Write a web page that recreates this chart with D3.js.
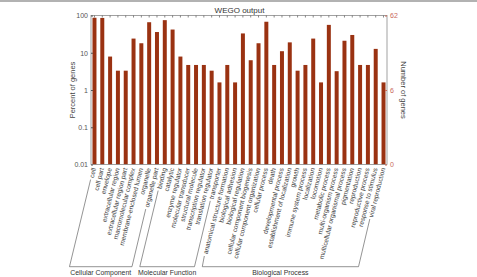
<!DOCTYPE html>
<html lang="en">
<head>
  <meta charset="UTF-8">
  <title>WEGO output</title>
  <style>
    body{margin:0;background:#fff;}
    text{font-family:"Liberation Sans", Arial, sans-serif;}
  </style>
</head>
<body>
<svg width="477" height="277"></svg>
<script src="https://cdn.jsdelivr.net/npm/d3@7/dist/d3.min.js"></script>
<script>
  // categories, in drawing order
  var categories = [
    "cell", "cell part", "envelope", "extracellular region", "extracellular region part",
    "macromolecular complex", "membrane-enclosed lumen", "organelle", "organelle part",
    "binding", "catalytic", "enzyme regulator", "molecular transducer", "structural molecule",
    "transcription regulator", "translation regulator", "transporter",
    "anatomical structure formation", "biological adhesion", "biological regulation",
    "cellular component biogenesis", "cellular component organization", "cellular process",
    "death", "developmental process", "establishment of localization", "growth",
    "immune system process", "localization", "locomotion", "metabolic process",
    "multi-organism process", "multicellular organismal process", "pigmentation",
    "reproduction", "reproductive process", "response to stimulus", "viral reproduction"
  ];
  // percent of genes
  var percents = [
    87, 86, 7.9, 3.3, 3.3, 24, 18, 66, 36,
    75, 42, 7.9, 4.7, 4.7, 4.7, 3.3, 1.6,
    4.7, 1.6, 33, 6.3, 18, 68, 4.7, 11, 19, 3.3, 4.7, 24, 1.6, 56, 3.2, 21, 30, 4.7, 4.7, 12.7, 1.6
  ];
  // groups: name, first index, last index
  var groupNames = ["Cellular Component", "Molecular Function", "Biological Process"];
  var groupFirst = [0, 9, 17];
  var groupLast = [8, 16, 37];
  var leftTicks = [0.01, 0.1, 1, 10, 100];
  var rightTicks = [0.01, 1, 100];
  var rightTickLabels = ["0", "6", "62"];

  var svg = d3.select('svg');
  var plot = {left: 91, right: 387, top: 15.5, bottom: 164.5};
  var barColor = '#9a3212';
  var axisColor = '#8a8a8a';

  var x = d3.scaleBand().domain(d3.range(categories.length))
    .range([plot.left, plot.right]).paddingInner(0.49).paddingOuter(0.19);
  var y = d3.scaleLog().domain([0.01, 100]).range([plot.bottom, plot.top]);

  // image top border
  svg.append('line').attr('x1', 0).attr('x2', 477).attr('y1', 1).attr('y2', 1)
    .attr('stroke', '#999').attr('stroke-width', 1.5);

  // title
  svg.append('text').attr('x', 239.5).attr('y', 13).attr('text-anchor', 'middle')
    .attr('font-size', 8).attr('fill', '#333').text('WEGO output');

  // bars
  svg.append('g').selectAll('rect').data(percents).enter().append('rect')
    .attr('x', function (d, i) { return x(i); })
    .attr('y', function (d) { return y(d); })
    .attr('width', x.bandwidth())
    .attr('height', function (d) { return plot.bottom - y(d); })
    .attr('fill', barColor);

  // frame
  svg.append('rect').attr('x', plot.left).attr('y', plot.top)
    .attr('width', plot.right - plot.left).attr('height', plot.bottom - plot.top)
    .attr('fill', 'none').attr('stroke', axisColor).attr('stroke-width', 0.8);

  // top ticks at each category
  svg.append('g').selectAll('line').data(categories).enter().append('line')
    .attr('x1', function (d, i) { return x(i) + x.bandwidth() / 2; })
    .attr('x2', function (d, i) { return x(i) + x.bandwidth() / 2; })
    .attr('y1', plot.top).attr('y2', plot.top + 2)
    .attr('stroke', '#555').attr('stroke-width', 0.7);

  // left axis
  var left = svg.append('g').attr('transform', 'translate(' + plot.left + ',0)')
    .call(d3.axisLeft(y).tickValues(leftTicks).tickSize(-2).tickPadding(3)
      .tickFormat(function (d) { return String(d); }));
  left.select('.domain').remove();
  left.selectAll('line').attr('stroke', '#555');
  left.selectAll('text').attr('font-size', 7).attr('fill', '#555')
    .attr('font-family', '"Liberation Sans", Arial, sans-serif');

  // right axis
  var right = svg.append('g').attr('transform', 'translate(' + plot.right + ',0)')
    .call(d3.axisRight(y).tickValues(rightTicks).tickSize(-2).tickPadding(3)
      .tickFormat(function (d, i) { return rightTickLabels[i]; }));
  right.select('.domain').remove();
  right.selectAll('line').attr('stroke', '#c96a5a');
  right.selectAll('text').attr('font-size', 7).attr('fill', '#c96a5a')
    .attr('font-family', '"Liberation Sans", Arial, sans-serif');

  // axis titles
  svg.append('text').attr('transform', 'translate(75,' + (plot.top + plot.bottom) / 2 + ') rotate(-90)')
    .attr('text-anchor', 'middle').attr('font-size', 7.5).attr('fill', '#444').text('Percent of genes');
  svg.append('text').attr('transform', 'translate(401,' + (plot.top + plot.bottom) / 2 + ') rotate(90)')
    .attr('text-anchor', 'middle').attr('font-size', 7.5).attr('fill', '#444').text('Number of genes');

  // category labels, rotated
  var angle = -76, rad = angle * Math.PI / 180;
  var labelTop = 168;
  var labels = svg.append('g').selectAll('text').data(categories).enter().append('text')
    .attr('transform', function (d, i) {
      return 'translate(' + (x(i) + x.bandwidth() / 2 - 0.5) + ',' + labelTop + ') rotate(' + angle + ')';
    })
    .attr('text-anchor', 'end').attr('dy', '0.35em')
    .attr('font-size', 6.6).attr('fill', '#444')
    .text(function (d) { return d; });

  var lens = [];
  labels.each(function () { lens.push(this.getComputedTextLength()); });

  // group brackets
  var bracketY = 266.7;
  var g = svg.append('g').attr('stroke', '#666').attr('stroke-width', 0.7).attr('fill', 'none');
  groupNames.forEach(function (name, k) {
    var a = groupFirst[k], b = groupLast[k];
    function endPoint(i) {
      var cx = x(i) + x.bandwidth() / 2 - 1, L = lens[i] + 2;
      return [cx - L * Math.cos(rad), labelTop - L * Math.sin(rad)];
    }
    var pa = endPoint(a), pb = endPoint(b);
    var xa = x(a) + x.bandwidth() / 2 - 25, xb = x(b) + x.bandwidth() / 2 - 25;
    g.append('path').attr('d', 'M' + pa[0] + ',' + pa[1] + 'L' + xa + ',' + bracketY +
      'L' + xb + ',' + bracketY + 'L' + pb[0] + ',' + pb[1]);
    svg.append('text').attr('x', (xa + xb) / 2).attr('y', 274.5).attr('text-anchor', 'middle')
      .attr('font-size', 6.9).attr('fill', '#333').text(name);
  });
</script>
</body>
</html>
